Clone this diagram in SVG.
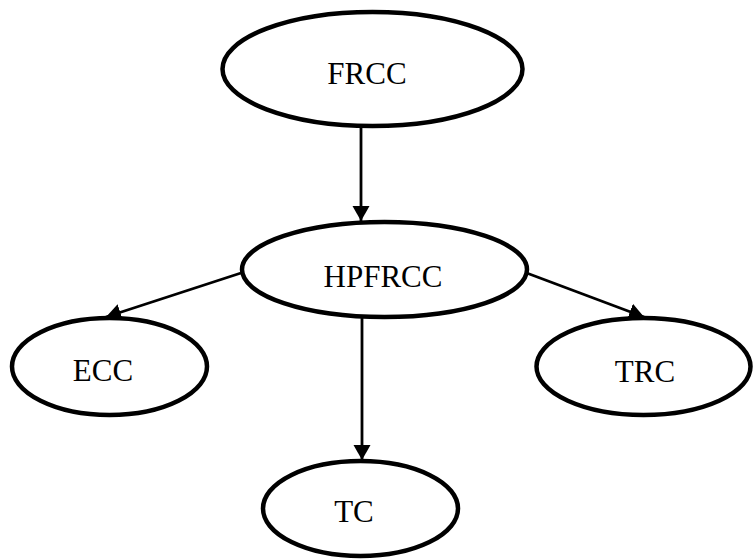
<svg xmlns="http://www.w3.org/2000/svg" width="753" height="560" viewBox="0 0 753 560">
<style>
.node ellipse{fill:#fff;stroke:#000;stroke-width:4.5}
.node text{font-family:"Liberation Serif","Times New Roman",serif;font-size:31px;fill:#000;text-anchor:middle}
.edge{stroke:#000;stroke-width:2.8;fill:none;marker-end:url(#arr)}
</style>
<defs>
<marker id="arr" markerUnits="userSpaceOnUse" markerWidth="16" markerHeight="18" refX="15" refY="8.5" orient="auto" viewBox="0 0 16 17">
<path d="M0,0 L15,8.5 L0,17 z" fill="#000"/>
</marker>
</defs>
<rect width="753" height="560" fill="#fff"/>
<g id="connectors">
<line class="edge" x1="361" y1="127" x2="361" y2="221"/>
<line class="edge" x1="362" y1="317" x2="362" y2="460"/>
<line class="edge" x1="241" y1="273" x2="106" y2="317"/>
<line class="edge" x1="524" y1="272" x2="644" y2="317"/>
</g>
<g id="FRCC" class="node">
<ellipse cx="372.5" cy="69" rx="150" ry="57"/>
<text x="367" y="84">FRCC</text>
</g>
<g id="HPFRCC" class="node">
<ellipse cx="384.5" cy="269.5" rx="142.5" ry="47.5"/>
<text x="383" y="287">HPFRCC</text>
</g>
<g id="ECC" class="node">
<ellipse cx="109.5" cy="366.5" rx="97.5" ry="48.5"/>
<text x="103" y="381">ECC</text>
</g>
<g id="TRC" class="node">
<ellipse cx="643.5" cy="366.5" rx="107" ry="48.5"/>
<text x="645" y="382">TRC</text>
</g>
<g id="TC" class="node">
<ellipse cx="360.5" cy="508.5" rx="97.5" ry="47.5"/>
<text x="354" y="522">TC</text>
</g>
</svg>
